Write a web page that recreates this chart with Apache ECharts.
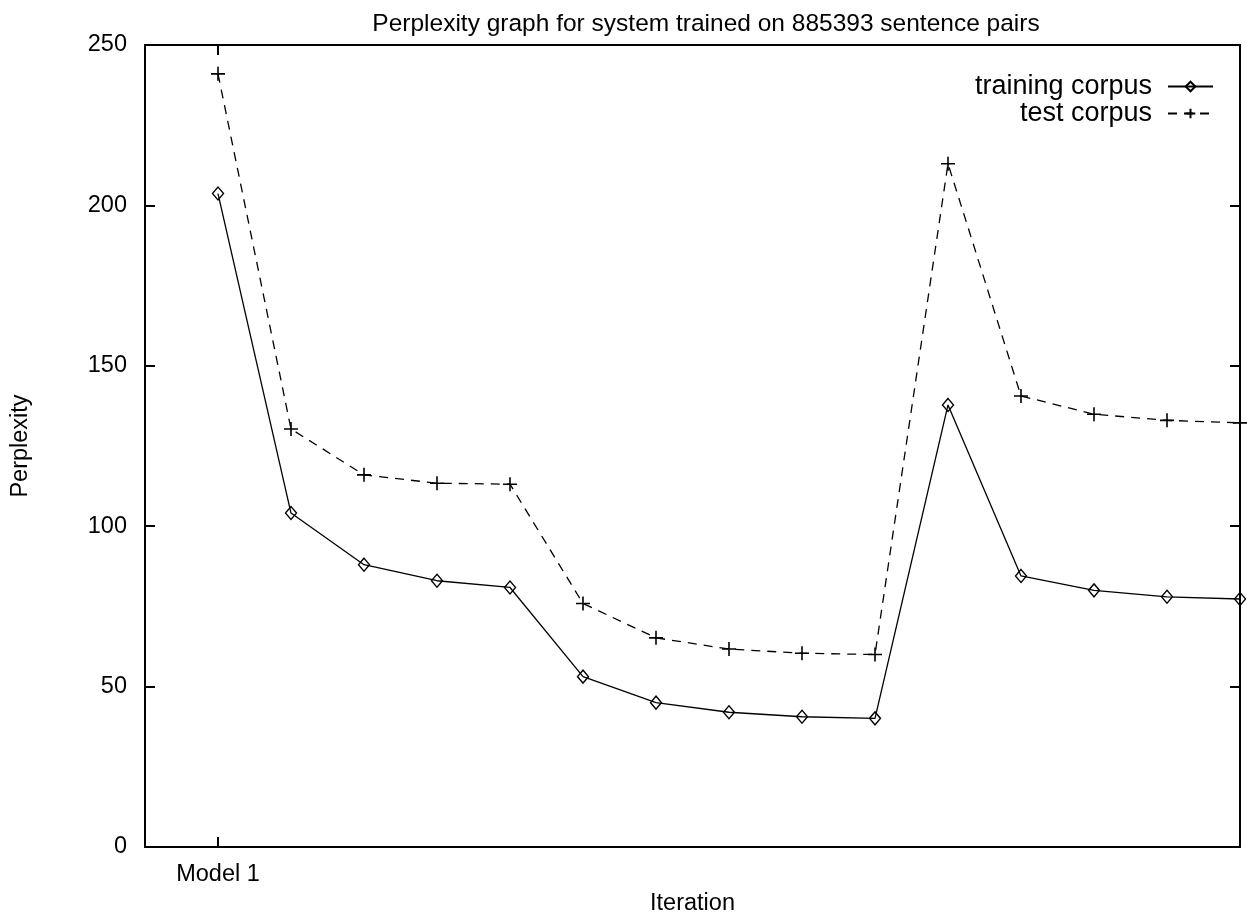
<!DOCTYPE html>
<html>
<head>
<meta charset="utf-8">
<script src="https://cdn.jsdelivr.net/npm/echarts@6/dist/echarts.min.js"></script>
<style>html,body{margin:0;padding:0;background:#fff}#c{width:1247px;height:921px}</style>
</head>
<body>
<div id="c"></div>
<script>
const iterations = [1, 2, 3, 4, 5, 6, 7, 8, 9, 10, 11, 12, 13, 14, 15];
const xTickLabels = ['Model 1'];
const xTickValues = [1];
const trainingCorpus = [203.7, 104.1, 88.0, 83.0, 80.9, 53.1, 45.0, 42.0, 40.6, 40.1, 137.8, 84.5, 80.0, 78.0, 77.3];
const testCorpus = [241.0, 130.3, 116.0, 113.4, 113.1, 75.9, 65.2, 61.7, 60.4, 60.0, 213.0, 140.6, 134.9, 133.0, 132.2];

const FONT = 'Liberation Sans, Arial, Helvetica, sans-serif';
const chart = echarts.init(document.getElementById('c'), null, {renderer: 'canvas'});
const plusPath = 'path://M0,6L12,6M6,0L6,12';
const tickStyle = {color: '#000', width: 2};

chart.setOption({
  backgroundColor: '#fff',
  animation: false,
  textStyle: {fontFamily: FONT, color: '#000'},
  title: {
    text: 'Perplexity graph for system trained on 885393 sentence pairs',
    left: 701, top: 7, textAlign: 'center',
    textStyle: {fontFamily: FONT, fontSize: 24.5, fontWeight: 'normal', color: '#000'}
  },
  legend: {
    orient: 'vertical', right: 28, top: 68, align: 'right',
    itemWidth: 45, itemHeight: 12, itemGap: 0,
    textStyle: {fontFamily: FONT, fontSize: 27, color: '#000', lineHeight: 24, height: 24, padding: [0, 11, 0, 0]},
    data: ['training corpus', 'test corpus']
  },
  grid: {left: 145, right: 7, top: 45, bottom: 72, containLabel: false},
  xAxis: [{
    type: 'value', min: 0, max: 15, interval: 1, gridIndex: 0, position: 'bottom',
    name: 'Iteration', nameLocation: 'middle', nameGap: 45,
    nameTextStyle: {fontFamily: FONT, fontSize: 23.5, color: '#000'},
    axisLine: {show: true, onZero: false, lineStyle: tickStyle},
    axisTick: {show: true, inside: true, length: 10, customValues: xTickValues, lineStyle: tickStyle},
    axisLabel: {show: true, customValues: xTickValues, margin: 16, fontFamily: FONT, fontSize: 23.5, color: '#000',
      formatter: v => xTickLabels[xTickValues.indexOf(v)] || ''},
    splitLine: {show: false}
  }, {
    type: 'value', min: 0, max: 15, interval: 1, gridIndex: 0, position: 'top',
    axisLine: {show: true, onZero: false, lineStyle: tickStyle},
    axisTick: {show: true, inside: true, length: 10, customValues: xTickValues, lineStyle: tickStyle},
    axisLabel: {show: false},
    splitLine: {show: false}
  }],
  yAxis: [{
    type: 'value', min: 0, max: 250, interval: 50, gridIndex: 0, position: 'left',
    name: 'Perplexity', nameLocation: 'middle', nameGap: 112, nameRotate: 90,
    nameTextStyle: {fontFamily: FONT, fontSize: 23.5, color: '#000'},
    axisLine: {show: true, onZero: false, lineStyle: tickStyle},
    axisTick: {show: true, inside: true, length: 10, lineStyle: tickStyle},
    axisLabel: {margin: 18, fontFamily: FONT, fontSize: 23.5, color: '#000'},
    splitLine: {show: false}
  }, {
    type: 'value', min: 0, max: 250, interval: 50, gridIndex: 0, position: 'right',
    axisLine: {show: true, onZero: false, lineStyle: tickStyle},
    axisTick: {show: true, inside: true, length: 10, lineStyle: tickStyle},
    axisLabel: {show: false},
    splitLine: {show: false}
  }],
  series: [{
    name: 'training corpus', type: 'line', clip: false,
    data: iterations.map((x, i) => [x, trainingCorpus[i]]),
    symbol: 'diamond', symbolSize: [11, 13],
    lineStyle: {color: '#000', width: 1.3, type: 'solid'},
    itemStyle: {color: 'rgba(255,255,255,0)', borderColor: '#000', borderWidth: 1.4}
  }, {
    name: 'test corpus', type: 'line', clip: false,
    data: iterations.map((x, i) => [x, testCorpus[i]]),
    symbol: plusPath, symbolSize: 14,
    lineStyle: {color: '#000', width: 1.3, type: [9, 7]},
    itemStyle: {color: 'rgba(255,255,255,0)', borderColor: '#000', borderWidth: 1.6}
  }]
});
</script>
</body>
</html>
